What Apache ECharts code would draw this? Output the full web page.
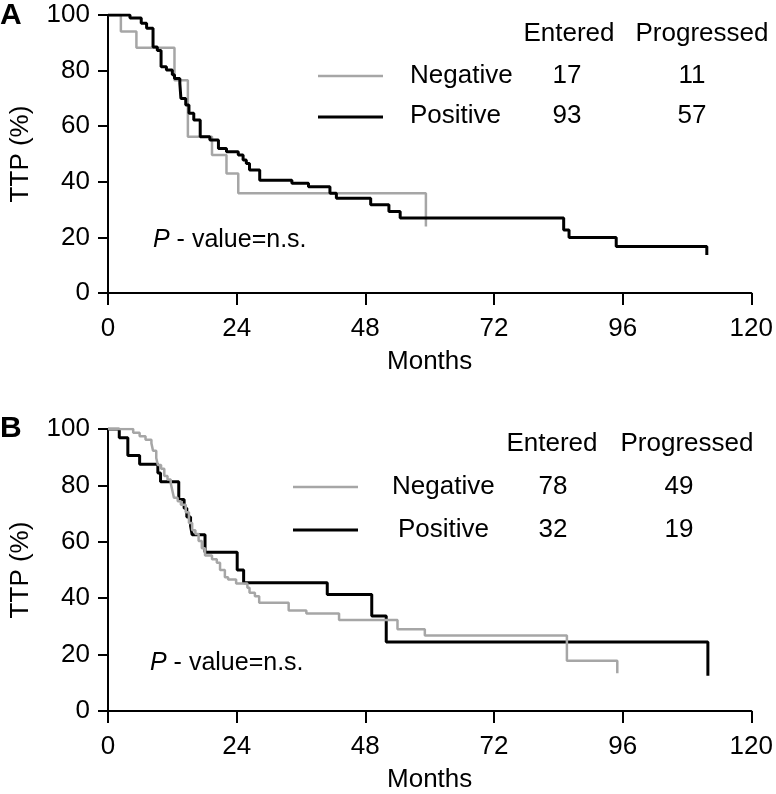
<!DOCTYPE html>
<html>
<head>
<meta charset="utf-8">
<script src="https://cdn.jsdelivr.net/npm/echarts@6/dist/echarts.min.js"></script>
<style>
  html, body { margin: 0; padding: 0; background: #fff; }
  #chart { width: 776px; height: 794px; }
</style>
</head>
<body>
<div id="chart"></div>
<script>
// [months, TTP %] after each drop
const panelANegative = [
  [0, 100], [2.4, 94.1], [5.3, 88.2], [12.4, 76.5], [14.9, 56.2], [19.4, 49.6],
  [22.1, 43.0], [24.3, 35.9], [59.3, 35.9], [59.3, 23.9]
];
const panelAPositive = [
  [0, 100], [4.1, 98.9], [6.2, 97.0], [7.2, 95.2], [8.4, 88.5], [9.2, 87.2],
  [9.9, 81.4], [10.9, 80.2], [12.0, 78.5], [12.4, 77.2], [13.4, 75.4], [13.6, 70.0],
  [14.5, 67.6], [15.1, 64.7], [16.0, 62.2], [17.2, 56.2], [19.0, 55.0], [20.6, 52.0],
  [22.1, 50.8], [24.3, 49.6], [25.2, 47.8], [25.8, 46.6], [26.4, 44.2], [28.3, 40.6],
  [34.3, 39.5], [37.4, 38.2], [41.4, 35.9], [42.6, 34.1], [49.0, 31.7], [52.4, 29.3],
  [54.5, 27.0], [85.0, 22.7], [86.0, 20.0], [94.8, 16.7], [111.7, 16.7], [111.7, 13.7]
];
const panelBNegative = [
  [0, 100], [4.7, 98.7], [5.9, 97.4], [7.0, 96.2], [8.1, 94.9], [8.4, 92.3],
  [9.0, 89.7], [9.3, 87.2], [9.9, 85.9], [10.5, 83.3], [11.1, 82.1], [11.7, 80.8],
  [12.0, 78.2], [12.3, 75.6], [13.0, 74.4], [13.6, 73.1], [14.5, 70.5], [15.1, 66.7],
  [15.7, 64.1], [16.3, 62.8], [16.9, 60.3], [17.5, 57.7], [18.1, 55.1], [19.4, 53.8],
  [20.3, 52.6], [20.9, 50.0], [21.8, 47.4], [22.4, 46.6], [23.9, 45.2], [26.0, 43.7],
  [26.4, 41.9], [27.4, 40.7], [28.2, 38.4], [33.7, 35.6], [37.0, 34.6], [43.1, 32.3],
  [54.0, 29.0], [59.1, 26.8], [85.6, 17.8], [95.0, 17.8], [95.0, 13.4]
];
const panelBPositive = [
  [0, 100], [2.1, 96.9], [3.7, 90.6], [5.9, 87.5], [9.3, 84.4], [9.8, 81.3],
  [13.2, 75.0], [14.2, 71.9], [14.7, 68.8], [15.4, 65.6], [15.7, 62.5], [18.1, 56.3],
  [24.1, 50.0], [25.3, 45.5], [40.9, 41.3], [49.2, 33.7], [51.9, 24.5],
  [111.9, 24.5], [111.9, 12.5]
];

const groups = ["Negative", "Positive"];
const enteredA = [17, 93];
const progressedA = [11, 57];
const enteredB = [78, 32];
const progressedB = [49, 19];

const FONT = "'Liberation Sans', Arial, Helvetica, sans-serif";
const GREY = "#a6a6a6";
const BLACK = "#000";
const FS = 26;

const chart = echarts.init(document.getElementById("chart"));

function xAxisFor(gridIndex, gap) {
  return {
    gridIndex: gridIndex,
    type: "value",
    min: 0,
    max: 120,
    interval: 24,
    name: "Months",
    nameLocation: "middle",
    nameGap: gap,
    nameTextStyle: { color: BLACK, fontSize: FS, fontFamily: FONT },
    axisLine: { lineStyle: { color: BLACK, width: 2 } },
    axisTick: { length: 12, lineStyle: { color: BLACK, width: 2 } },
    axisLabel: { color: BLACK, fontSize: FS, fontFamily: FONT, margin: 23 },
    splitLine: { show: false }
  };
}

function yAxisFor(gridIndex) {
  return {
    gridIndex: gridIndex,
    type: "value",
    min: 0,
    max: 100,
    interval: 20,
    name: "TTP (%)",
    nameLocation: "middle",
    nameGap: 74,
    nameTextStyle: { color: BLACK, fontSize: FS, fontFamily: FONT },
    axisLine: { show: true, lineStyle: { color: BLACK, width: 2 } },
    axisTick: { show: true, length: 10, lineStyle: { color: BLACK, width: 2 } },
    axisLabel: { color: BLACK, fontSize: FS, fontFamily: FONT, margin: 18 },
    splitLine: { show: false }
  };
}

function km(name, data, idx, color, width) {
  return {
    name: name,
    type: "line",
    step: "end",
    xAxisIndex: idx,
    yAxisIndex: idx,
    data: data,
    showSymbol: false,
    symbol: "none",
    animation: false,
    lineStyle: { color: color, width: width }
  };
}

function txt(x, y, text, align, size, weight) {
  return {
    type: "text",
    x: x,
    y: y,
    style: {
      text: text,
      fill: BLACK,
      font: (weight || "normal") + " " + (size || FS) + "px " + FONT,
      textAlign: align || "left",
      textVerticalAlign: "middle"
    }
  };
}

function legendLine(x1, x2, y, color, width) {
  return {
    type: "line",
    shape: { x1: x1, y1: y, x2: x2, y2: y },
    style: { stroke: color, lineWidth: width }
  };
}

function pValue(x, y) {
  return {
    type: "text",
    x: x,
    y: y,
    style: {
      text: "{p|P} - value=n.s.",
      fill: BLACK,
      font: "25px " + FONT,
      textVerticalAlign: "middle",
      rich: {
        p: { fontStyle: "italic", fontSize: 25, fontFamily: FONT }
      }
    }
  };
}

const graphics = [
  txt(0, 16, "A", "left", 30, "bold"),
  txt(0, 429, "B", "left", 30, "bold"),

  // panel A table
  txt(569, 34, "Entered", "center"),
  txt(702, 34, "Progressed", "center"),
  legendLine(318, 383, 76, GREY, 2.5),
  legendLine(318, 383, 117, BLACK, 3),
  txt(410, 76, groups[0]),
  txt(410, 116, groups[1]),
  txt(567, 76, String(enteredA[0]), "center"),
  txt(567, 116, String(enteredA[1]), "center"),
  txt(692, 76, String(progressedA[0]), "center"),
  txt(692, 116, String(progressedA[1]), "center"),
  pValue(153, 240),

  // panel B table
  txt(552, 444, "Entered", "center"),
  txt(687, 444, "Progressed", "center"),
  legendLine(293, 358, 487, GREY, 2.5),
  legendLine(293, 358, 530, BLACK, 3),
  txt(392, 487, groups[0]),
  txt(398, 530, groups[1]),
  txt(553, 487, String(enteredB[0]), "center"),
  txt(553, 530, String(enteredB[1]), "center"),
  txt(679, 487, String(progressedB[0]), "center"),
  txt(679, 530, String(progressedB[1]), "center"),
  pValue(150, 663)
];

chart.setOption({
  backgroundColor: "#fff",
  animation: false,
  grid: [
    { left: 101, top: 15, width: 654, height: 278 },
    { left: 101, top: 429, width: 655, height: 283 }
  ],
  xAxis: [xAxisFor(0, 56), xAxisFor(1, 56)],
  yAxis: [yAxisFor(0), yAxisFor(1)],
  series: [
    km("Negative", panelANegative, 0, GREY, 2.5),
    km("Positive", panelAPositive, 0, BLACK, 3),
    km("Positive", panelBPositive, 1, BLACK, 3),
    km("Negative", panelBNegative, 1, GREY, 2.5)
  ],
  graphic: graphics
});
</script>
</body>
</html>
